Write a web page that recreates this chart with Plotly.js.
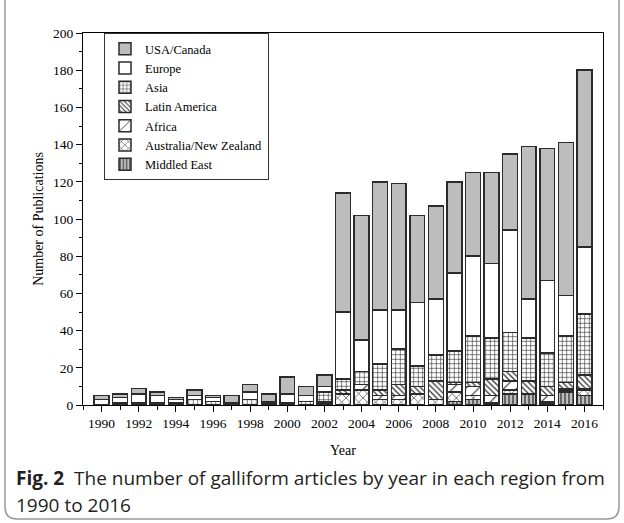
<!DOCTYPE html>
<html>
<head>
<meta charset="utf-8">
<script src="https://cdn.plot.ly/plotly-3.0.1.min.js"></script>
<style>
  html, body { margin: 0; padding: 0; background: #ffffff; }
  #chart { width: 624px; height: 523px; }
</style>
</head>
<body>
<div id="chart"></div>
<script>
// Publications per year, split by region
const years = [1990, 1991, 1992, 1993, 1994, 1995, 1996, 1997, 1998, 1999, 2000, 2001, 2002,
               2003, 2004, 2005, 2006, 2007, 2008, 2009, 2010, 2011, 2012, 2013, 2014, 2015, 2016];

const middleEast   = [0, 0, 0, 0, 0, 0, 0, 0, 0, 0, 0, 0, 0,  0,  0,  0,  0,  0,  0,  2,  3,  0,  6,  6,  1,  7,  5];
const australiaNZ  = [0, 0, 0, 0, 0, 0, 0, 0, 0, 0, 0, 0, 1,  6,  8,  3,  3,  6,  3,  5,  2,  1,  2,  0,  1,  1,  3];
const africa       = [0, 0, 0, 1, 0, 0, 0, 0, 0, 0, 0, 0, 0,  0,  3,  2,  2,  0,  0,  4,  5,  4,  5,  0,  3,  1,  1];
const latinAmerica = [0, 0, 0, 0, 0, 0, 0, 0, 0, 0, 0, 0, 1,  2,  0,  3,  6,  4, 10,  1,  2,  9,  5,  7,  5,  3,  7];
const asia         = [0, 1, 1, 0, 1, 3, 2, 0, 3, 1, 1, 2, 5,  6,  7, 14, 19, 11, 14, 17, 25, 22, 21, 23, 18, 25, 33];
const europe       = [3, 3, 5, 4, 2, 2, 2, 1, 4, 1, 5, 3, 3, 36, 17, 29, 21, 34, 30, 42, 43, 40, 55, 21, 39, 22, 36];
const usaCanada    = [2, 2, 3, 2, 1, 3, 1, 4, 4, 4, 9, 5, 6, 64, 67, 69, 68, 47, 50, 49, 45, 49, 41, 82, 71, 82, 95];

const regionNames = ['Middled East', 'Australia/New Zealand', 'Africa', 'Latin America', 'Asia', 'Europe', 'USA/Canada'];

// Plot-area geometry in pixels, used to place the caption and outer frame
const W = 624, H = 523;
const M = { l: 83, r: 21, t: 33, b: 118 };
const plotW = W - M.l - M.r, plotH = H - M.t - M.b;
const px = x => (x - M.l) / plotW;
const py = y => (H - M.b - y) / plotH;

const ink = '#2b2b2b';
const grey = '#bdbdbd';

function barTrace(name, values, fill, pattern) {
  const marker = { color: fill, line: { color: ink, width: 1.5 } };
  if (pattern) marker.pattern = Object.assign({ fgcolor: ink, bgcolor: fill, fillmode: 'replace' }, pattern);
  return { type: 'bar', name: name, x: years, y: values, width: 0.8, marker: marker, hoverinfo: 'x+y+name' };
}

const data = [
  barTrace(regionNames[0], middleEast,   grey,    { shape: '|', size: 4, solidity: 0.3 }),
  barTrace(regionNames[1], australiaNZ,  'white', { shape: 'x', size: 6, solidity: 0.2 }),
  barTrace(regionNames[2], africa,       'white', { shape: '/', size: 9, solidity: 0.12 }),
  barTrace(regionNames[3], latinAmerica, 'white', { shape: '\\', size: 4, solidity: 0.3 }),
  barTrace(regionNames[4], asia,         'white', { shape: '+', size: 4.5, solidity: 0.25 }),
  barTrace(regionNames[5], europe,       'white'),
  barTrace(regionNames[6], usaCanada,    grey)
];

// Rounded outer frame around chart and caption
const fl = px(5), fr = px(619), fb = py(519), ft = py(-10);
const rx = 12 / plotW, ry = 12 / plotH;
const framePath = `M ${fl},${ft} L ${fl},${fb + ry} Q ${fl},${fb} ${fl + rx},${fb} ` +
                  `L ${fr - rx},${fb} Q ${fr},${fb} ${fr},${fb + ry} L ${fr},${ft}`;

const serif = 'Liberation Serif, Times New Roman, serif';
const sans = 'Open Sans, Noto Sans, sans-serif';

const layout = {
  width: W, height: H,
  margin: M,
  paper_bgcolor: 'white', plot_bgcolor: 'white',
  barmode: 'stack',
  showlegend: true,
  font: { family: serif, size: 13, color: '#000' },
  legend: {
    x: px(104), y: 1, xanchor: 'left', yanchor: 'top',
    traceorder: 'reversed',
    bordercolor: '#333', borderwidth: 1, bgcolor: 'white',
    font: { family: serif, size: 12.5, color: '#000' },
    itemwidth: 30, tracegroupgap: 0
  },
  xaxis: {
    range: [1989, 2017],
    tickmode: 'linear', tick0: 1990, dtick: 2,
    ticks: 'outside', ticklen: 6, tickwidth: 1, tickcolor: '#000',
    minor: { dtick: 1, ticks: 'outside', ticklen: 4, tickwidth: 1, tickcolor: '#000' },
    showline: true, linecolor: '#000', linewidth: 1, mirror: true,
    showgrid: false, zeroline: false,
    tickfont: { family: serif, size: 13.5, color: '#000' },
    title: { text: 'Year', font: { family: serif, size: 14, color: '#000' }, standoff: 14 }
  },
  yaxis: {
    range: [0, 200],
    tickmode: 'linear', tick0: 0, dtick: 20,
    ticks: 'outside', ticklen: 6, tickwidth: 1, tickcolor: '#000',
    minor: { dtick: 10, ticks: 'outside', ticklen: 3, tickwidth: 1, tickcolor: '#000' },
    showline: true, linecolor: '#000', linewidth: 1, mirror: true,
    showgrid: false, zeroline: false,
    tickfont: { family: serif, size: 13.5, color: '#000' },
    title: { text: 'Number of Publications', font: { family: serif, size: 14, color: '#000' }, standoff: 6 }
  },
  shapes: [{
    type: 'path', xref: 'paper', yref: 'paper', path: framePath,
    line: { color: '#9a9a9a', width: 1.5 }, layer: 'below'
  }],
  annotations: [
    {
      xref: 'paper', yref: 'paper', x: px(14), y: py(478), xanchor: 'left', yanchor: 'middle',
      showarrow: false, align: 'left',
      text: '<b>Fig. 2</b>  The number of galliform articles by year in each region from',
      font: { family: sans, size: 19, color: '#231f20' }
    },
    {
      xref: 'paper', yref: 'paper', x: px(14), y: py(505), xanchor: 'left', yanchor: 'middle',
      showarrow: false, align: 'left',
      text: '1990 to 2016',
      font: { family: sans, size: 19, color: '#231f20' }
    }
  ]
};

Plotly.newPlot('chart', data, layout, { staticPlot: true, displayModeBar: false });
</script>
</body>
</html>
